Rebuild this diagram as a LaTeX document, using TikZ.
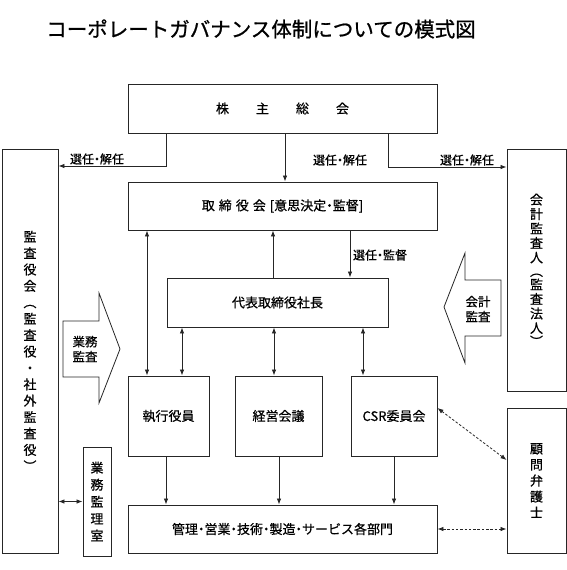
\documentclass[tikz,border=0pt]{standalone}
\usepackage{fontspec}
\setmainfont{Noto Sans CJK JP}
\newfontfamily\jpm{Noto Sans CJK JP}[FakeBold=0.6]
\newfontfamily\jpt{Noto Sans CJK JP}[FakeBold=0.9]
\usetikzlibrary{arrows.meta,calc}
\newcommand\nd{\makebox[0.5em]{・}}
\begin{document}
\begin{tikzpicture}[x=1pt,y=-1pt,
  box/.style={draw=black!85, line width=0.9pt, inner sep=0pt, fill=white},
  arr/.style={draw=black!85, line width=0.8pt, -{Latex[length=6pt,width=4.5pt]}},
  darr/.style={draw=black!85, line width=0.8pt, {Latex[length=6pt,width=4.5pt]}-{Latex[length=6pt,width=4.5pt]}},
  dsh/.style={darr, dash pattern=on 2.5pt off 1.8pt},
  lbl/.style={font=\jpm\fontsize{12}{12}\selectfont, inner sep=0pt},
  btxt/.style={font=\jpm\fontsize{13}{13}\selectfont},
  blk/.style={draw=black!85, line width=0.8pt, fill=white},
  vt/.style={align=center, inner sep=0pt, font=\jpm\fontsize{13}{#1}\selectfont}
]
\useasboundingbox (0,0) rectangle (567,570);

% title
\node[font=\jpt\fontsize{20.5}{20.5}\selectfont] (title) at (261,29) {コーポレートガバナンス体制についての模式図};

% boxes
\node[box, btxt, minimum width=309pt, minimum height=49pt] (soukai) at (282.5,108.5)
  {株\hspace{27pt}主\hspace{27pt}総\hspace{27pt}会};
\node[box, btxt, minimum width=309pt, minimum height=48pt] (tori) at (282.5,206)
  {取\hspace{4pt}締\hspace{4pt}役\hspace{4pt}会\hspace{4pt}[意思決定\nd 監督]};
\node[box, minimum width=56pt, minimum height=404pt] (kansa) at (30,351) {};
\node[vt=16.4] (kansat) at (kansa.center)
  {監\\査\\役\\会\\︵\\監\\査\\役\\・\\社\\外\\監\\査\\役\\︶};
\node[box, minimum width=59pt, minimum height=242pt] (kaikei) at (536.5,270) {};
\node[vt=14.5] (kaikeit) at (kaikei.center)
  {会\\計\\監\\査\\人\\[-1pt]︵\\[-1pt]監\\査\\法\\人\\[-1pt]︶};
\node[box, minimum width=59pt, minimum height=145pt] (bengo) at (536.5,480.5) {};
\node[vt=16] (bengot) at (bengo.center) {顧\\問\\弁\\護\\士};
\node[box, btxt, minimum width=221pt, minimum height=49pt] (daihyo) at (277.5,302.5) {代表取締役社長};
\node[box, btxt, minimum width=81pt, minimum height=80pt] (shikko) at (168.5,416) {執行役員};
\node[box, btxt, minimum width=87pt, minimum height=80pt] (keiei) at (278.5,416) {経営会議};
\node[box, btxt, minimum width=86pt, minimum height=80pt] (csr) at (394,416) {CSR委員会};
\node[box, btxt, minimum width=309pt, minimum height=48pt] (kanri) at (282.5,529)
  {管理\nd 営業\nd 技術\nd 製造\nd サービス各部門};
\node[box, minimum width=28pt, minimum height=109pt] (shitsu) at (97,501.5) {};
\node[vt=17] (shitsut) at (shitsu.center) {業\\務\\監\\理\\室};

% block arrows
\draw[blk] (63,321) -- (99,321) -- (99,293) -- (120,349) -- (99,403) -- (99,377) -- (63,377) -- cycle;
\node[vt=15, font=\jpm\fontsize{12.5}{15}\selectfont] (gyomu) at (85,349) {業務\\監査};
\draw[blk] (501,280) -- (465,280) -- (465,253) -- (444,307) -- (465,363) -- (465,336) -- (501,336) -- cycle;
\node[vt=15, font=\jpm\fontsize{12.5}{15}\selectfont] (kaikeikansa) at (478,309) {会計\\監査};

% helper coordinates
\coordinate (yl) at (0,166);
\coordinate (yr) at (0,167);

% connectors
\draw[arr] ([xshift=-116.5pt]soukai.south) |- (kansa.east |- yl);
\draw[arr] ([xshift=2.5pt]soukai.south) -- ([xshift=2.5pt]tori.north);
\draw[arr] ([xshift=105.5pt]soukai.south) |- (kaikei.west |- yr);
\node[lbl] (l1) at (97,159) {選任\nd 解任};
\node[lbl] (l2) at (340,160) {選任\nd 解任};
\node[lbl] (l3) at (467,160) {選任\nd 解任};

\draw[darr] ([xshift=-135.5pt]tori.south) -- ([xshift=-21.5pt]shikko.north);
\draw[arr] ([xshift=-4.5pt]daihyo.north) -- ([xshift=-9.5pt]tori.south);
\draw[arr] ([xshift=67.5pt]tori.south) -- ([xshift=72.5pt]daihyo.north);
\node[lbl] (l4) at (380,255) {選任\nd 監督};

\draw[darr] ([xshift=-95.5pt]daihyo.south) -- ([xshift=13.5pt]shikko.north);
\draw[darr] ([xshift=-3.5pt]daihyo.south) -- ([xshift=-4.5pt]keiei.north);
\draw[darr] ([xshift=85.5pt]daihyo.south) -- ([xshift=-31pt]csr.north);

\draw[arr] ([xshift=-2.5pt]shikko.south) -- ([xshift=-116.5pt]kanri.north);
\draw[arr] ([xshift=0.5pt]keiei.south) -- ([xshift=-3.5pt]kanri.north);
\draw[arr] (csr.south) -- ([xshift=111.5pt]kanri.north);

\draw[darr] (shitsu.west) -- (kansa.east |- shitsu.west);
\draw[dsh] ([yshift=8pt]csr.east) -- ([yshift=20.5pt]bengo.west);
\draw[dsh] (kanri.east) -- (bengo.west |- kanri.east);
\end{tikzpicture}
\end{document}
